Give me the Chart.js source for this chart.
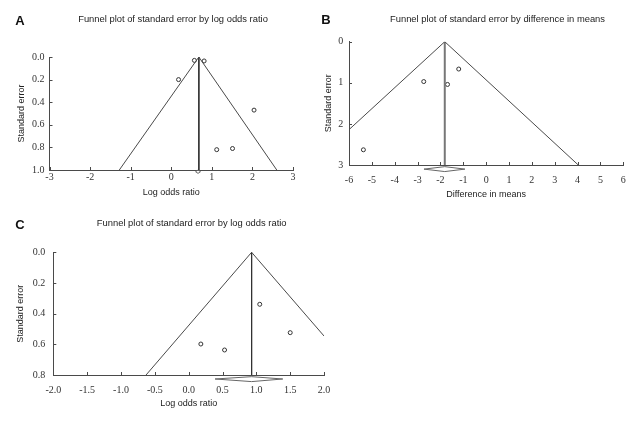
<!DOCTYPE html>
<html>
<head>
<meta charset="utf-8">
<script src="https://cdn.jsdelivr.net/npm/chart.js@4/dist/chart.umd.min.js"></script>
<style>
  body { margin: 0; background: #fff; }
  .wrap { position: relative; width: 644px; height: 421px; overflow: hidden; }
  canvas { position: absolute; }
</style>
</head>
<body>
<div class="wrap">
  <canvas id="chartA" width="310" height="205" style="left:0;top:0"></canvas>
  <canvas id="chartB" width="334" height="210" style="left:310px;top:0"></canvas>
  <canvas id="chartC" width="340" height="221" style="left:0;top:200px"></canvas>
</div>
<script>
// Panel A - log odds ratio
const aStudyX = [0.57, 0.81, 0.18, 2.04, 1.12, 1.51];
const aStudySE = [0.03, 0.035, 0.20, 0.47, 0.82, 0.81];
const aFunnelX = [-1.28, 0.68, 2.60];
const aFunnelSE = [1.0, 0, 1.0];
const aPooledX = [0.68, 0.68];
const aPooledSE = [0, 1.0];
const aDiamondX = [0.60, 0.66, 0.72, 0.66, 0.60];
const aDiamondSE = [1.015, 1.0, 1.015, 1.03, 1.015];

// Panel B - difference in means
const bStudyX = [-5.37, -2.73, -1.69, -1.20];
const bStudySE = [2.63, 0.97, 1.04, 0.665];
const bFunnelX = [-6, -1.81, 4.03];
const bFunnelSE = [2.14, 0, 3.0];
const bPooledX = [-1.81, -1.81];
const bPooledSE = [0, 3.0];
const bDiamondX = [-2.72, -1.81, -0.93, -1.81, -2.72];
const bDiamondSE = [3.10, 3.04, 3.10, 3.16, 3.10];

// Panel C - log odds ratio
const cStudyX = [0.18, 0.53, 1.05, 1.50];
const cStudySE = [0.598, 0.637, 0.339, 0.524];
const cFunnelX = [-0.63, 0.93, 2.0];
const cFunnelSE = [0.8, 0, 0.546];
const cPooledX = [0.93, 0.93];
const cPooledSE = [0, 0.8];
const cDiamondX = [0.39, 0.93, 1.39, 0.93, 0.39];
const cDiamondSE = [0.826, 0.811, 0.826, 0.843, 0.826];

const inkColor = '#333';
const lineColor = '#4a4a4a';
const tickFont = { family: "'Liberation Serif', serif", size: 10 };
const textFont = { family: "'Liberation Sans', Arial, sans-serif", size: 9 };

const toPoints = (xs, ys) => xs.map((x, i) => ({ x, y: ys[i] }));

// small tick marks drawn on the inner side of both axes, plus panel letter and heading
const funnelDecor = {
    id: 'funnelDecor',
    afterDraw(chart, args, opts) {
        const { ctx, chartArea, scales } = chart;
        ctx.save();
        ctx.strokeStyle = lineColor;
        ctx.lineWidth = 1;
        ctx.beginPath();
        scales.x.ticks.forEach(t => {
            const px = Math.round(scales.x.getPixelForValue(t.value)) + 0.5;
            ctx.moveTo(px, chartArea.bottom);
            ctx.lineTo(px, chartArea.bottom - 3);
        });
        scales.y.ticks.forEach(t => {
            const py = Math.round(scales.y.getPixelForValue(t.value)) + 0.5;
            ctx.moveTo(chartArea.left, py);
            ctx.lineTo(chartArea.left + 3, py);
        });
        ctx.stroke();

        ctx.fillStyle = '#111';
        ctx.textBaseline = 'middle';
        ctx.textAlign = 'center';
        ctx.font = "bold 13px 'Liberation Sans', Arial, sans-serif";
        ctx.fillText(opts.letter, opts.letterX, opts.letterY);
        ctx.font = "9.4px 'Liberation Sans', Arial, sans-serif";
        ctx.fillStyle = '#222';
        ctx.fillText(opts.heading, opts.headingX, opts.headingY);
        ctx.restore();
    }
};

function createFunnelChart(canvasId, d, o) {
    const ctx = document.getElementById(canvasId);
    if (!ctx) return null;
    return new Chart(ctx, {
        type: 'scatter',
        data: {
            datasets: [
                { data: toPoints(d.funnelX, d.funnelSE), showLine: true, borderColor: lineColor, borderWidth: 1, pointRadius: 0 },
                { data: toPoints(d.pooledX, d.pooledSE), showLine: true, borderColor: o.pooledColor || '#333', borderWidth: o.pooledWidth || 1, pointRadius: 0 },
                { data: toPoints(d.diamondX, d.diamondSE), showLine: true, borderColor: '#666', backgroundColor: '#fff', fill: false, borderWidth: 1, pointRadius: 0, clip: false },
                { data: toPoints(d.studyX, d.studySE), showLine: false, pointRadius: 2, pointBorderWidth: 1, pointBorderColor: inkColor, pointBackgroundColor: 'rgba(255,255,255,0)', clip: false }
            ]
        },
        options: {
            responsive: false,
            animation: false,
            layout: { padding: { top: o.top, right: o.right, left: 0, bottom: 0 } },
            plugins: {
                legend: { display: false },
                tooltip: { enabled: false },
                funnelDecor: o.decor
            },
            scales: {
                x: {
                    type: 'linear',
                    min: o.xMin, max: o.xMax,
                    ticks: { stepSize: o.xStep, padding: o.xPad, font: tickFont, color: inkColor, callback: v => v.toFixed(o.xDec) },
                    grid: { display: false, drawTicks: false },
                    border: { display: true, color: lineColor, width: 1 },
                    title: { display: true, text: o.xTitle, font: textFont, color: '#222', padding: { top: 0, bottom: o.xTitlePad } },
                    afterFit: s => { s.height = o.xHeight; }
                },
                y: {
                    type: 'linear',
                    reverse: true,
                    min: 0, max: o.yMax,
                    ticks: { stepSize: o.yStep, padding: o.yPad, font: tickFont, color: inkColor, callback: v => v.toFixed(o.yDec) },
                    grid: { display: false, drawTicks: false },
                    border: { display: true, color: lineColor, width: 1 },
                    title: { display: true, text: 'Standard error', font: textFont, color: '#222', padding: { top: o.yTitlePad, bottom: 0 } },
                    afterFit: s => { s.width = o.yWidth; }
                }
            }
        },
        plugins: [funnelDecor]
    });
}

createFunnelChart('chartA',
    { studyX: aStudyX, studySE: aStudySE, funnelX: aFunnelX, funnelSE: aFunnelSE, pooledX: aPooledX, pooledSE: aPooledSE, diamondX: aDiamondX, diamondSE: aDiamondSE },
    { top: 57, right: 17, xHeight: 35, yWidth: 49.5, xMin: -3, xMax: 3, xStep: 1, xDec: 0, yMax: 1, yStep: 0.2, yDec: 1,
      xPad: 1, yPad: 5, xTitle: 'Log odds ratio', xTitlePad: 6.6, yTitlePad: 16,
      decor: { letter: 'A', letterX: 20, letterY: 21, heading: 'Funnel plot of standard error by log odds ratio', headingX: 173, headingY: 19 } });

createFunnelChart('chartB',
    { studyX: bStudyX, studySE: bStudySE, funnelX: bFunnelX, funnelSE: bFunnelSE, pooledX: bPooledX, pooledSE: bPooledSE, diamondX: bDiamondX, diamondSE: bDiamondSE },
    { top: 41.7, right: 20.7, xHeight: 45, yWidth: 39, xMin: -6, xMax: 6, xStep: 1, xDec: 0, yMax: 3, yStep: 1, yDec: 0,
      xPad: 9.5, yPad: 5.7, xTitle: 'Difference in means', xTitlePad: 9.6, yTitlePad: 12.9,
      pooledColor: '#777', pooledWidth: 2,
      decor: { letter: 'B', letterX: 16, letterY: 20, heading: 'Funnel plot of standard error by difference in means', headingX: 187.5, headingY: 19 } });

createFunnelChart('chartC',
    { studyX: cStudyX, studySE: cStudySE, funnelX: cFunnelX, funnelSE: cFunnelSE, pooledX: cPooledX, pooledSE: cPooledSE, diamondX: cDiamondX, diamondSE: cDiamondSE },
    { top: 52.3, right: 10.7, xHeight: 46, yWidth: 53.3, xMin: -2, xMax: 2, xStep: 0.5, xDec: 1, yMax: 0.8, yStep: 0.2, yDec: 1,
      xPad: 9.7, yPad: 8, xTitle: 'Log odds ratio', xTitlePad: 11.6, yTitlePad: 15.3,
      decor: { letter: 'C', letterX: 20, letterY: 25, heading: 'Funnel plot of standard error by log odds ratio', headingX: 191.7, headingY: 23.3 } });
</script>
</body>
</html>
